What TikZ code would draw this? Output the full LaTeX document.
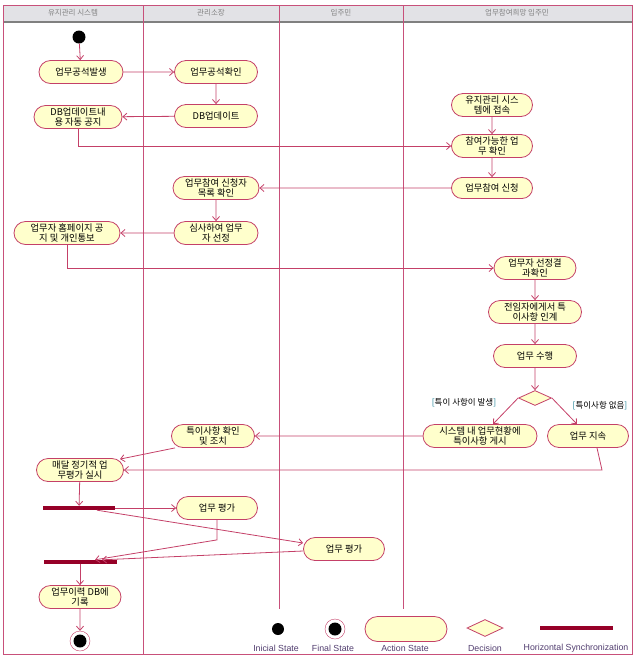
\documentclass[tikz,border=0pt]{standalone}
\usepackage{fontspec}
\setmainfont{Noto Sans CJK KR}
\newfontfamily\legfont{Liberation Sans}
\usetikzlibrary{shapes.misc,shapes.geometric,arrows.meta}
\definecolor{actfill}{RGB}{255,255,204}
\definecolor{actline}{RGB}{196,64,104}
\definecolor{laneline}{RGB}{200,80,122}
\definecolor{barred}{RGB}{150,0,40}
\definecolor{headfill}{RGB}{226,226,230}
\definecolor{guardc}{RGB}{30,130,150}
\definecolor{legtext}{RGB}{80,60,110}
\begin{document}
\begin{tikzpicture}[x=1pt,y=-1pt,
    act/.style={rounded rectangle,draw=actline,fill=actfill,line width=0.8pt,
      minimum height=23pt,inner sep=1pt,align=center,
      font=\fontsize{9.3}{10.3}\selectfont},
    dec/.style={diamond,draw=actline,fill=actfill,line width=0.8pt,
      minimum width=33pt,minimum height=15pt,inner sep=0pt},
    bar/.style={rectangle,fill=barred,minimum height=4pt,inner sep=0pt},
    ini/.style={circle,fill=black,minimum size=13pt,inner sep=0pt},
    fin/.style={circle,draw=actline,fill=white,minimum size=20pt,inner sep=0pt,
      path picture={\fill[black] (path picture bounding box.center) circle (6.5pt);}},
    flow/.style={draw=actline,line width=0.8pt,-{Straight Barb[length=4pt,width=7pt]}},
    lane/.style={draw=laneline,line width=1pt},
    guard/.style={font=\fontsize{8.5}{9}\selectfont},
    leg/.style={font=\legfont\fontsize{8.8}{9}\selectfont,text=legtext},
    head/.style={font=\fontsize{7.5}{8}\selectfont,text=gray}]
  \useasboundingbox (0,0) rectangle (635,657);
  % swimlanes
  \fill[headfill] (3,5) rectangle (632,21);
  \draw[gray,line width=1.5pt] (3,22) -- (632,22);
  \draw[lane] (3,5) rectangle (632,654);
  \draw[lane] (143,5) -- (143,654);
  \draw[lane] (279,5) -- (279,609);
  \draw[lane] (403,5) -- (403,609);
  \node[head] (h1) at (73,13) {유지관리 시스템};
  \node[head] (h2) at (211,13) {관리소장};
  \node[head] (h3) at (341,13) {입주민};
  \node[head] (h4) at (517,13) {업무참여희망 입주민};
  % states
  \node[ini] (start) at (79,37) {};
  \node[act,minimum width=86pt] (a1) at (81,72) {업무공석발생};
  \node[act,minimum width=85pt] (a2) at (216,72) {업무공석확인};
  \node[act,minimum width=85pt] (a3) at (216,116) {DB업데이트};
  \node[act,minimum width=90pt] (a4) at (78,117) {DB업데이트내\\용 자동 공지};
  \node[act,minimum width=83pt] (a5) at (492,105) {유지관리 시스\\템에 접속};
  \node[act,minimum width=83pt] (a6) at (492,146) {참여가능한 업\\무 확인};
  \node[act,minimum width=83pt,minimum height=21pt] (a7) at (492,188) {업무참여 신청};
  \node[act,minimum width=88pt] (a8) at (216,188) {업무참여 신청자\\목록 확인};
  \node[act,minimum width=86pt] (a9) at (216,233) {심사하여 업무\\자 선정};
  \node[act,minimum width=108pt] (a10) at (67,233) {업무자 홈페이지 공\\지 및 개인통보};
  \node[act,minimum width=84pt] (a11) at (535,268) {업무자 선정결\\과확인};
  \node[act,minimum width=95pt] (a12) at (535,312) {전임자에게서 특\\이사항 인계};
  \node[act,minimum width=85pt] (a13) at (535,356) {업무 수행};
  \node[dec] (d1) at (535,398) {};
  \node[guard] (g1) at (464,403) {{\color{guardc}[}특이 사항이 발생{\color{guardc}]}};
  \node[guard] (g2) at (600,406) {{\color{guardc}[}특이사항 없음{\color{guardc}]}};
  \node[act,minimum width=116pt] (a14) at (480,436) {시스템 내 업무현황에\\특이사항 게시};
  \node[act,minimum width=83pt] (a15) at (588,436) {업무 지속};
  \node[act,minimum width=85pt] (a16) at (213,436) {특이사항 확인\\및 조치};
  \node[act,minimum width=89pt] (a17) at (80,470) {매달 정기적 업\\무평가 실시};
  \node[bar,minimum width=72pt] (f1) at (79,508) {};
  \node[act,minimum width=83pt] (a18) at (217,508) {업무 평가};
  \node[act,minimum width=83pt] (a19) at (344,549) {업무 평가};
  \node[bar,minimum width=73pt] (f2) at (80,562) {};
  \node[act,minimum width=84pt] (a20) at (80,597) {업무이력 DB에\\기록};
  \node[fin] (end) at (80,641) {};
  \coordinate (c1) at (602,470);
  % transitions
  \draw[flow] (start) -- (a1);
  \draw[flow] (a1) -- (a2);
  \draw[flow] (a2) -- (a3);
  \draw[flow] (a3) -- (a4);
  \draw[flow] (a4.south) |- (a6.west);
  \draw[flow] (a5) -- (a6);
  \draw[flow] (a6) -- (a7);
  \draw[flow] (a7) -- (a8);
  \draw[flow] (a8) -- (a9);
  \draw[flow] (a9) -- (a10);
  \draw[flow] (a10.south) |- (a11.west);
  \draw[flow] (a11) -- (a12);
  \draw[flow] (a12) -- (a13);
  \draw[flow] (a13) -- (d1);
  \draw[flow] (d1.west) -- ([xshift=13pt]a14.north);
  \draw[flow] (d1.east) -- ([xshift=-11pt]a15.north);
  \draw[flow] (a14) -- (a16);
  \draw[flow] ([xshift=-38pt]a16.south) -- ([xshift=40pt,yshift=-1pt]a17.north);
  \draw[flow] ([xshift=9pt]a15.south) -- (c1) -- (c1 -| a17.east);
  \draw[flow] (a17) -- (f1);
  \draw[flow] (f1) -- (a18);
  \draw[flow] ([xshift=18pt]f1.south) -- ([yshift=6pt]a19.west);
  \draw[flow] (a18.south) -- ++(0,20) -- ([xshift=15pt]f2.north);
  \draw[flow] ([yshift=-2pt]a19.west) -- ([xshift=22pt]f2.north);
  \draw[flow] (f2) -- (a20);
  \draw[flow] (a20) -- (end);
  % legend
  \node[ini,minimum size=12pt] (l1) at (278,629) {};
  \node[leg] (t1) at (276,648) {Inicial State};
  \node[fin] (l2) at (335,629) {};
  \node[leg] (t2) at (333,648) {Final State};
  \node[act,minimum width=84pt,minimum height=25pt] (l3) at (406,629) {};
  \node[leg] (t3) at (405,648) {Action State};
  \node[dec,minimum width=36pt,minimum height=17pt] (l4) at (485,628) {};
  \node[leg] (t4) at (485,648) {Decision};
  \node[bar,minimum width=73pt] (l5) at (576,628) {};
  \node[leg] (t5) at (576,648) {Horizontal Synchronization};
\end{tikzpicture}
\end{document}
